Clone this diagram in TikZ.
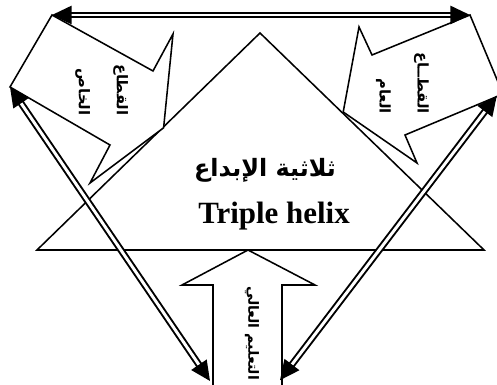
\documentclass[tikz,border=0pt]{standalone}
\usepackage{fontspec}
\usetikzlibrary{arrows.meta}
\setmainfont{Liberation Serif}
\newfontfamily\arabicfont[Script=Arabic]{DejaVu Sans}
\TeXXeTstate=1

\begin{document}
\begin{tikzpicture}[line cap=round,>={Triangle[length=14pt,width=13pt]},
  link/.style={<->, double, line width=1.4pt, double distance=2.1pt},
  callout/.style={fill=white, line width=1.1pt, line join=miter},
  sector/.style={font=\arabicfont\bfseries\fontsize{10.5}{27}\selectfont, rotate=-90, align=right, inner sep=0pt}]
  \useasboundingbox (0,0) rectangle (12.425,9.625);
  \clip (0,0) rectangle (12.425,9.625);
  % the triangle
  \draw[line width=1.1pt, line join=miter] (0.925,3.375) -- (12.10,3.375) -- (6.50,8.80) -- cycle;
  % the three block arrows
  \draw[callout] (1.30,9.25) -- (3.825,7.85) -- (4.325,8.775) -- (4.09,6.43)
    -- (2.25,5.05) -- (2.75,6.00) -- (0.25,7.45) -- cycle;
  \draw[callout] (11.75,9.25) -- (12.575,7.275) -- (10.125,6.25) -- (10.425,5.55)
    -- (8.58,6.825) -- (8.975,8.95) -- (9.30,8.25) -- cycle;
  \draw[callout] (6.20,3.375) -- (7.875,2.50) -- (7.05,2.50) -- (7.05,-0.2)
    -- (5.325,-0.2) -- (5.325,2.50) -- (4.55,2.50) -- cycle;
  % ends of the links
  \coordinate (privA) at (1.30,9.25);
  \coordinate (privB) at (0.25,7.45);
  \coordinate (pubA) at (11.75,9.25);
  \coordinate (pubB) at (12.42,7.23);
  \coordinate (uniL) at (5.25,0.10);
  \coordinate (uniR) at (7.00,0.12);
  \draw[link] (privA) -- (pubA);
  \draw[link] (privB) -- (uniL);
  \draw[link] (pubB) -- (uniR);
  % labels
  \node[sector] (priv) at (2.54,7.375) {\beginR القطاع\endR\\\beginR الخاص\endR};
  \node[sector] (pub) at (10.06,7.55) {\beginR القطــاع\endR\\\beginR العام\endR};
  \node[sector, font=\arabicfont\bfseries\fontsize{10}{25}\selectfont] (uni) at (6.30,1.3) {\beginR التعليم العالي\endR};
  \node[font=\arabicfont\bfseries\fontsize{17}{22}\selectfont] (titleAr) at (6.625,5.375) {\beginR ثلاثية الإبداع\endR};
  \node[font=\bfseries\fontsize{22}{26}\selectfont] (titleEn) at (6.85,4.225) {Triple helix};
\end{tikzpicture}
\end{document}
